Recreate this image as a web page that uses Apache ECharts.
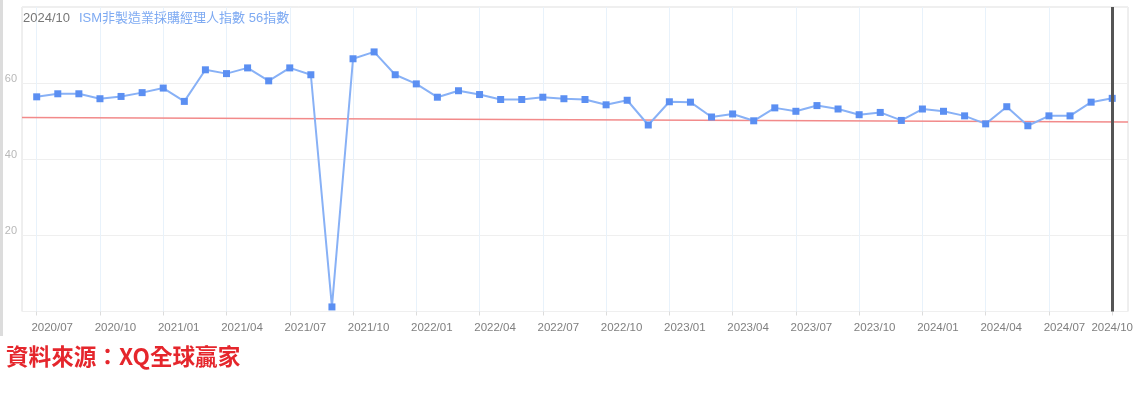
<!DOCTYPE html>
<html>
<head>
<meta charset="utf-8">
<script src="https://cdn.jsdelivr.net/npm/echarts@6/dist/echarts.min.js"></script>
<style>
html,body{margin:0;padding:0;background:#fff;}
#c{width:1136px;height:398px;}
</style>
</head>
<body>
<div id="c"></div>
<script>
// ---- data ----
const months = [
 '2020/07','2020/08','2020/09','2020/10','2020/11','2020/12',
 '2021/01','2021/02','2021/03','2021/04','2021/05','2021/06','2021/07','2021/08','2021/09','2021/10','2021/11','2021/12',
 '2022/01','2022/02','2022/03','2022/04','2022/05','2022/06','2022/07','2022/08','2022/09','2022/10','2022/11','2022/12',
 '2023/01','2023/02','2023/03','2023/04','2023/05','2023/06','2023/07','2023/08','2023/09','2023/10','2023/11','2023/12',
 '2024/01','2024/02','2024/03','2024/04','2024/05','2024/06','2024/07','2024/08','2024/09','2024/10'
];
const pmiValues = [
 56.4,57.2,57.2,55.9,56.5,57.5,
 58.7,55.2,63.5,62.5,64.0,60.6,64.0,62.2,1.2,66.4,68.2,62.2,
 59.8,56.3,58.0,57.0,55.7,55.7,56.3,55.9,55.7,54.3,55.5,49.0,
 55.1,55.0,51.1,51.9,50.1,53.5,52.6,54.1,53.2,51.7,52.3,50.2,
 53.2,52.6,51.4,49.3,53.8,48.8,51.4,51.4,55.0,56.0
];
const refLineStartEnd = [51.0, 49.8];   // red reference line, left and right ends
const yTicks = [0, 20, 40, 60, 80];
const titleDate = '2024/10';
const titleName = 'ISM非製造業採購經理人指數 56指數';
const sourceText = '資料來源：XQ全球贏家';

const chart = echarts.init(document.getElementById('c'), null, {renderer: 'canvas'});
const lastIdx = months.length - 1;
const fontLat = '"Liberation Sans", Arial, "Noto Sans CJK TC", sans-serif';

chart.setOption({
  animation: false,
  backgroundColor: '#fff',
  title: {
    left: 18, top: 7,
    text: '{g|' + titleDate + '}{b|' + titleName + '}',
    textStyle: {
      fontWeight: 'normal',
      rich: {
        g: {color: '#777777', fontSize: 13, fontWeight: 'normal', fontFamily: fontLat},
        b: {color: '#7eaaf2', fontSize: 13, fontWeight: 'normal', fontFamily: fontLat, padding: [0, 0, 0, 9]}
      }
    }
  },
  graphic: [
    {type: 'rect', left: 0, top: 0, shape: {width: 3, height: 336}, style: {fill: '#dcdcdc'}, silent: true},
    {type: 'text', left: 6, top: 345, style: {text: sourceText, fill: '#e5262c', font: 'bold 22.6px "Noto Sans CJK TC", sans-serif'}}
  ],
  grid: [
    {left: 22, right: 8, top: 7, bottom: 86.5, show: true, borderColor: '#dedede', borderWidth: 1, backgroundColor: 'transparent'},
    {left: 36.7, right: 22.7, top: 7, bottom: 86.5}
  ],
  xAxis: [
    {gridIndex: 0, type: 'value', min: 0, max: 1, show: false},
    {
      gridIndex: 1, type: 'category', data: months, boundaryGap: false,
      axisLine: {show: false},
      axisTick: {show: true, interval: 2, length: 4, lineStyle: {color: '#dcdcdc'}},
      axisLabel: {
        interval: 2, margin: 11,
        formatter: (v, i) => (i === lastIdx ? '{e|' + v + '}' : '{n|' + v + '}'),
        rich: {
          n: {color: '#7f7f7f', fontSize: 11.5, fontFamily: fontLat, padding: [0, 0, 0, 31]},
          e: {color: '#7f7f7f', fontSize: 11.5, fontFamily: fontLat}
        }
      },
      splitLine: {show: true, interval: 2, lineStyle: {color: '#e8f2fb', width: 1}}
    }
  ],
  yAxis: [
    {
      gridIndex: 0, type: 'value', min: yTicks[0], max: yTicks[yTicks.length - 1], interval: 20,
      axisLine: {show: false}, axisTick: {show: false},
      axisLabel: {
        margin: 5,
        formatter: v => (v === 0 || v === 80) ? '' : '{t|' + v + '}',
        rich: {t: {color: '#b8b8b8', fontSize: 11, fontFamily: fontLat, padding: [0, 0, 8, 0]}}
      },
      splitLine: {show: true, lineStyle: {color: '#efefef'}}
    },
    {gridIndex: 1, type: 'value', min: yTicks[0], max: yTicks[yTicks.length - 1], show: false}
  ],
  series: [
    {
      type: 'line', xAxisIndex: 0, yAxisIndex: 0,
      data: [[0, refLineStartEnd[0]], [1, refLineStartEnd[1]]],
      symbol: 'none', silent: true,
      lineStyle: {color: '#f28a8a', width: 1.5}
    },
    {
      type: 'line', xAxisIndex: 1, yAxisIndex: 1,
      data: pmiValues,
      symbol: 'rect', symbolSize: 7, showAllSymbol: true,
      itemStyle: {color: '#5b8ff2'},
      lineStyle: {color: '#88b1f6', width: 2},
      markLine: {
        silent: true, symbol: 'none', label: {show: false},
        lineStyle: {color: '#555', width: 3, type: 'solid'},
        data: [{xAxis: months[lastIdx]}]
      }
    }
  ]
});
</script>
</body>
</html>
